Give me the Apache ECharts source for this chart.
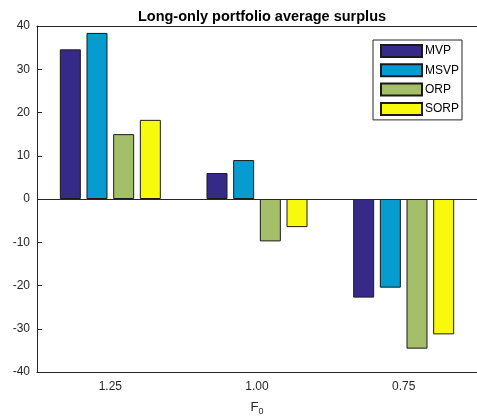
<!DOCTYPE html>
<html><head><meta charset="utf-8">
<script src="https://cdn.jsdelivr.net/npm/echarts@6/dist/echarts.min.js"></script>
<style>html,body{margin:0;padding:0;background:#fff}#c{width:477px;height:419px}</style>
</head><body><div id="c"></div>
<script>
const categories = ['1.25', '1.00', '0.75'];
const seriesNames = ['MVP', 'MSVP', 'ORP', 'SORP'];
const mvp = [34.6, 6.0, -22.8];
const msvp = [38.4, 9.0, -20.5];
const orp = [15.0, -9.8, -34.6];
const sorp = [18.3, -6.5, -31.3];
const yTicks = [-40, -30, -20, -10, 0, 10, 20, 30, 40];
const colors = ['#352a87', '#069ccf', '#a5be6a', '#f8fa0d'];
const values = [mvp, msvp, orp, sorp];

const font = 'Helvetica, Arial, "Liberation Sans", sans-serif';
const chart = echarts.init(document.getElementById('c'));
chart.setOption({
  animation: false,
  textStyle: {fontFamily: font},
  title: {
    text: 'Long-only portfolio average surplus',
    left: 257, top: 4, textAlign: 'center',
    textStyle: {fontSize: 14.5, fontWeight: 'bold', color: '#000', fontFamily: font}
  },
  legend: {
    orient: 'vertical', left: 373, top: 40,
    icon: 'rect',
    itemWidth: 41, itemHeight: 12, itemGap: 5.3,
    padding: [4, 3, 4, 7],
    borderColor: '#262626', borderWidth: 1, backgroundColor: '#fff',
    textStyle: {fontSize: 12, lineHeight: 12, color: '#000', fontFamily: font, padding: [0, 0, 0, -2]},
    data: seriesNames
  },
  grid: {left: 37, right: 0, top: 26, bottom: 47, containLabel: false, outerBoundsMode: 'none'},
  xAxis: [{
    type: 'category', data: categories, position: 'bottom',
    axisLine: {onZero: false, lineStyle: {color: '#262626', width: 1}},
    axisTick: {inside: true, length: 5, alignWithLabel: true, lineStyle: {color: '#262626'}},
    axisLabel: {fontSize: 12, color: '#262626', margin: 9},
    name: 'F{sub|0}', nameLocation: 'middle', nameGap: 26,
    nameTextStyle: {fontSize: 13, color: '#262626', rich: {sub: {fontSize: 9, color: '#262626', verticalAlign: 'bottom', padding: [9, 0, 0, 0]}}}
  }, {
    type: 'category', data: categories, position: 'top',
    axisLine: {onZero: false, lineStyle: {color: '#262626', width: 1}},
    axisTick: {inside: true, length: 5, alignWithLabel: true, lineStyle: {color: '#262626'}},
    axisLabel: {show: false}
  }],
  yAxis: {
    type: 'value', min: -40, max: 40, interval: 10,
    axisLine: {show: true, lineStyle: {color: '#262626'}},
    axisTick: {show: true, inside: true, length: 5, lineStyle: {color: '#262626'}},
    axisLabel: {fontSize: 12, color: '#262626', margin: 7,
      formatter: v => yTicks.includes(v) ? String(v) : ''},
    splitLine: {show: false}
  },
  series: seriesNames.map((n, i) => ({
    name: n, type: 'bar', data: values[i],
    barWidth: 21, barGap: '27%',
    itemStyle: {color: colors[i], borderColor: '#1a1a1a', borderWidth: 1},
    markLine: i === 0 ? {
      silent: true, symbol: 'none', label: {show: false},
      lineStyle: {color: '#262626', width: 1, type: 'solid'},
      data: [{yAxis: 0}]
    } : undefined,
    z: 2
  }))
});
</script></body></html>
